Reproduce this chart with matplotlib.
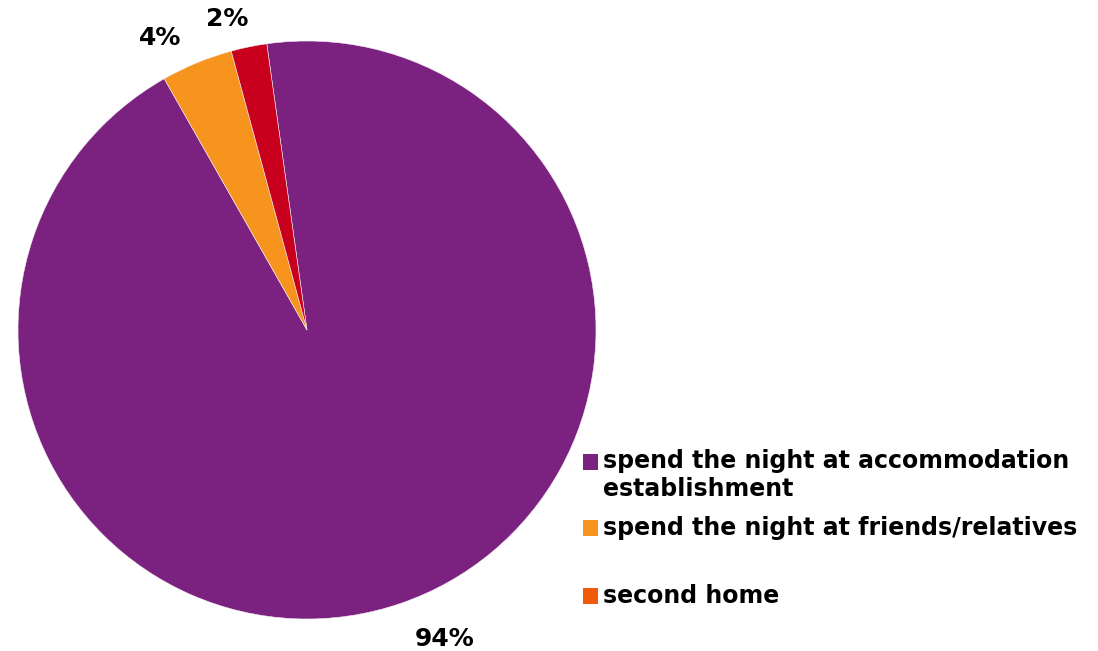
import matplotlib.pyplot as plt
from matplotlib.patches import Rectangle

# overnight stay type, share of respondents (%)
categories = ["spend the night at accommodation\nestablishment",
              "spend the night at friends/relatives",
              "second home"]
shares = [94, 4, 2]
slice_colors = ["#7B217F", "#F7941E", "#C8001E"]
legend_colors = ["#7B217F", "#F7941E", "#F05A0A"]

plt.rcParams["font.family"] = "DejaVu Sans"

fig = plt.figure(figsize=(10.98, 6.51), dpi=100)
W, H = 1098, 651

# pie axes: centre (307, 330) px, radius 289 px
cx, cy, r = 307, 330, 289
ax = fig.add_axes([(cx - r) / W, (H - cy - r) / H, 2 * r / W, 2 * r / H])
wedges, _ = ax.pie(shares, colors=slice_colors, startangle=98, counterclock=False,
                   radius=1.0, wedgeprops=dict(linewidth=0.4, edgecolor="#f4eef4"))
ax.set_xlim(-1, 1)
ax.set_ylim(-1, 1)
ax.set_aspect("equal")
ax.axis("off")

# percentage labels
label_pos = [(0.477, -1.07), (-0.509, 1.01), (-0.277, 1.075)]
for val, (lx, ly) in zip(shares, label_pos):
    ax.text(lx, ly, f"{val}%", ha="center", va="center",
            fontsize=18, fontweight="bold", clip_on=False)

# legend drawn by hand (row centres in px from top)
rows = [462, 528, 596]
for cat, col, y in zip(categories, legend_colors, rows):
    fig.patches.append(Rectangle((583 / W, 1 - (y + 8) / H), 15 / W, 16 / H,
                                 transform=fig.transFigure, facecolor=col,
                                 edgecolor="none"))
    if "\n" in cat:
        fig.text(603 / W, 1 - (y - 13) / H, cat, ha="left", va="top",
                 fontsize=17, fontweight="bold", linespacing=1.22)
    else:
        fig.text(603 / W, 1 - y / H, cat, ha="left", va="center",
                 fontsize=17, fontweight="bold")

fig.savefig("out.png", dpi=100)
